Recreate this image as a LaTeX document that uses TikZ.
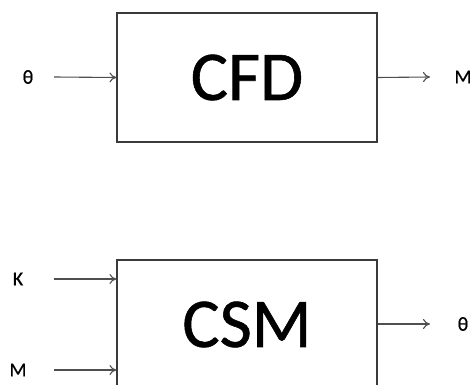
\documentclass[tikz,border=0pt]{standalone}
\usepackage{fontspec}
\setmainfont{Carlito}
\newfontfamily\titlefont[FakeBold=0.8]{Carlito}
\newfontfamily\labelfont[FakeBold=0.5]{Carlito}
\usetikzlibrary{arrows.meta}
\definecolor{edgegray}{HTML}{3A3A3A}
\definecolor{linegray}{HTML}{4F4F4F}
\begin{document}
\begin{tikzpicture}[x=1pt,y=-1pt,
  block/.style={draw=edgegray,line width=1.1pt,minimum width=260pt,minimum height=129pt,
    inner sep=0pt,font=\titlefont\fontsize{70}{70}\selectfont},
  lbl/.style={inner sep=0pt,font=\labelfont\fontsize{20}{20}\selectfont},
  flow/.style={draw=linegray,line width=1.1pt,-{To[length=7pt,width=10pt]}}]
\useasboundingbox (0,0) rectangle (475,385);
\clip (0,0) rectangle (475,385);

% solver for the fluid side
\node[block] (cfd) at (247,77.5) {CFD};
\node[lbl] (thin) at (28,77) {θ};
\node[lbl] (mout) at (463,77) {M};
\coordinate (cfdin) at (54,77);
\coordinate (cfdout) at (430,77);
\draw[flow] (cfdin) -- (cfd.west);
\draw[flow] (cfd.east) -- (cfdout);

% solver for the structural side
\node[block] (csm) at (247,324.5) {CSM};
\node[lbl] (kin) at (18,279) {K};
\node[lbl] (min) at (18,370) {M};
\node[lbl] (thout) at (463,324) {θ};
\coordinate (kstart) at (54,279);
\coordinate (mstart) at (54,370);
\coordinate (csmout) at (430,324);
\draw[flow] (kstart) -- (kstart -| csm.west);
\draw[flow] (mstart) -- (mstart -| csm.west);
\draw[flow] (csm.east |- csmout) -- (csmout);
\end{tikzpicture}
\end{document}
